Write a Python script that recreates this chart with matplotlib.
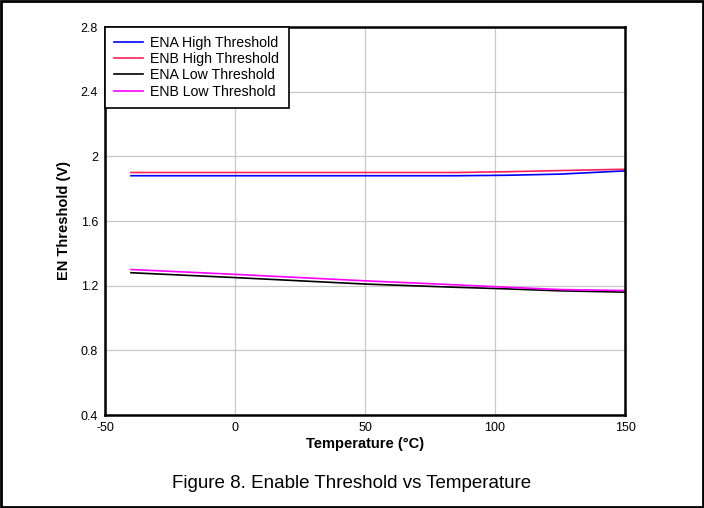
import matplotlib
matplotlib.use('Agg')
import matplotlib.pyplot as plt
from matplotlib.patches import Rectangle

plt.rcParams['font.family'] = ['Liberation Sans', 'DejaVu Sans']
plt.rcParams['axes.unicode_minus'] = False

temp = [-40, 0, 25, 50, 85, 105, 125, 150]
ena_high = [1.88, 1.88, 1.88, 1.88, 1.88, 1.883, 1.89, 1.91]
enb_high = [1.90, 1.90, 1.90, 1.90, 1.90, 1.905, 1.912, 1.92]
ena_low = [1.28, 1.25, 1.23, 1.21, 1.19, 1.18, 1.168, 1.16]
enb_low = [1.30, 1.27, 1.25, 1.23, 1.205, 1.19, 1.176, 1.17]

xticks = [-50, 0, 50, 100, 150]
yticks = [0.4, 0.8, 1.2, 1.6, 2.0, 2.4, 2.8]
yticklabels = ['0.4', '0.8', '1.2', '1.6', '2', '2.4', '2.8']

fig = plt.figure(figsize=(7.04, 5.08), dpi=100)
ax = fig.add_axes([105 / 704, 1 - 415 / 508, 520 / 704, 388 / 508])

ax.plot(temp, ena_high, color='#0000ff', lw=1.2, label='ENA High Threshold')
ax.plot(temp, enb_high, color='#ff1f5b', lw=1.2, label='ENB High Threshold')
ax.plot(temp, ena_low, color='#000000', lw=1.2, label='ENA Low Threshold')
ax.plot(temp, enb_low, color='#ff00ff', lw=1.2, label='ENB Low Threshold')

ax.set_xlim(-50, 150)
ax.set_ylim(0.4, 2.8)
ax.set_xticks(xticks)
ax.set_yticks(yticks)
ax.set_yticklabels(yticklabels)
ax.tick_params(length=0, labelsize=9, pad=5)
ax.grid(True, color='#c8c8c8', lw=0.9)
for s in ax.spines.values():
    s.set_linewidth(1.8)

ax.set_xlabel('Temperature (°C)', fontsize=10.5, fontweight='bold', labelpad=2)
ax.set_ylabel('EN Threshold (V)', fontsize=10.5, fontweight='bold', labelpad=7)

leg = ax.legend(loc='upper left', borderaxespad=0, fontsize=10.2, fancybox=False,
                framealpha=1, edgecolor='black', handlelength=2.0,
                handletextpad=0.55, labelspacing=0.15, borderpad=0.65)
leg.get_frame().set_linewidth(1.2)

fig.text(0.5, 1 - 483 / 508, 'Figure 8. Enable Threshold vs Temperature',
         ha='center', va='center', fontsize=13.5)

fig.patches.append(Rectangle((0.002, 0.002), 0.996, 0.996, transform=fig.transFigure,
                             fill=False, edgecolor='black', lw=2))

fig.savefig('out.png', dpi=100)
